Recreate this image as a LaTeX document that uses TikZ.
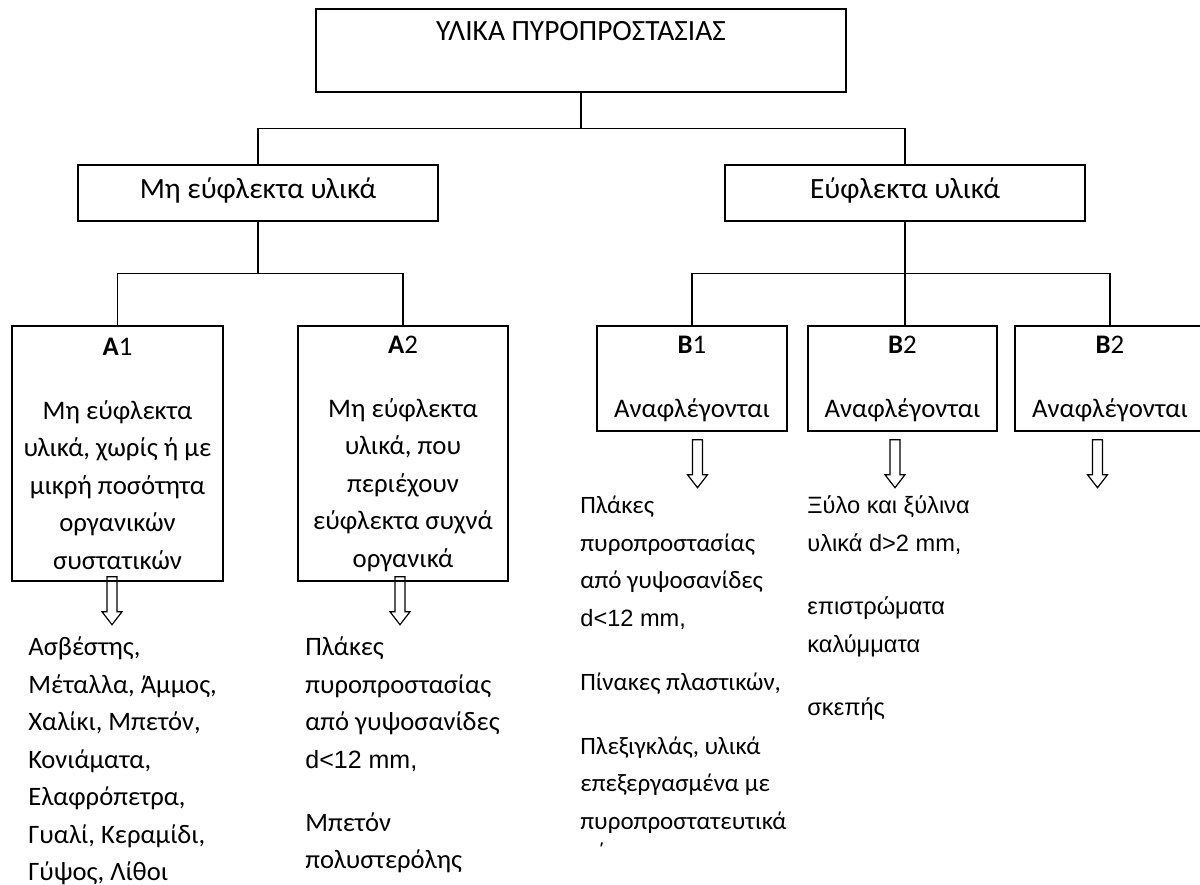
\documentclass[tikz,border=0pt]{standalone}
\usepackage{fontspec}
\setmainfont{Carlito}
\newfontfamily\arialfont{Liberation Sans}
\usetikzlibrary{positioning}
\usetikzlibrary{calc}

\newcommand{\titlefont}{\fontsize{14.7}{18.75}\selectfont}
\newcommand{\boxfont}{\fontsize{13.4}{18.75}\selectfont}
\newcommand{\listfont}{\fontsize{13.3}{18.75}\selectfont}
\newcommand{\blistfont}{\fontsize{12.5}{18.75}\selectfont}
\newcommand{\armfont}{\arialfont\fontsize{12.5}{18.75}\selectfont}
\newcommand{\barmfont}{\arialfont\fontsize{11.8}{18.75}\selectfont}

\tikzset{
  box/.style={draw, line width=0.7pt, inner sep=0pt, align=center, font=\boxfont},
  list/.style={anchor=north west, inner sep=0pt, align=left, font=\listfont},
  downarrow/.pic={\draw[line width=0.6pt, line join=miter] (-5,0) -- (5,0) -- (5,35) -- (10,35) -- (0,48) -- (-10,35) -- (-5,35) -- cycle;}
}

\begin{document}
\begin{tikzpicture}[x=0.5pt, y=-0.5pt]
	\useasboundingbox (0,0) rectangle (1200,884);
	
	% top level
	\node[box, font=\titlefont, minimum width=265pt, minimum height=41.5pt, text height=10pt, text depth=20.5pt] (top) at (581,50.5) {ΥΛΙΚΑ ΠΥΡΟΠΡΟΣΤΑΣΙΑΣ};
	
	% second level
	\node[box, font=\titlefont, minimum width=180pt, minimum height=28pt, text height=11pt, text depth=6pt] (mhe) at (258,193) {Μη εύφλεκτα υλικά};
	\node[box, font=\titlefont, minimum width=180pt, minimum height=28pt, text height=11pt, text depth=6pt] (eyf) at (905,193) {Εύφλεκτα υλικά};
	
	\draw[line width=0.7pt] (top.south) -- ++(0,36) coordinate (bus1);
	\draw[line width=0.7pt] (mhe.north) |- (bus1) -| (eyf.north);
	
	% A classes
	\node[box, minimum width=105.5pt, minimum height=127.5pt] (a1) at (117.5,453.5) {\textbf{A}1\\[13.25pt]Μη εύφλεκτα\\υλικά, χωρίς ή με\\μικρή ποσότητα\\οργανικών\\συστατικών};
	\node[box, minimum width=105pt, minimum height=127.5pt] (a2) at (403,453.5) {\textbf{A}2\\[13.25pt]Μη εύφλεκτα\\υλικά, που\\περιέχουν\\εύφλεκτα συχνά\\οργανικά};
	
	\draw[line width=0.7pt] (mhe.south) -- ++(0,52) coordinate (bus2);
	\draw[line width=0.7pt] (a1.north) |- (bus2) -| (a2.north);
	
	% B classes
	\node[box, minimum width=95pt, minimum height=52.5pt] (b1) at (692,378.5) {\textbf{B}1\\[13.25pt]Αναφλέγονται};
	\node[box, minimum width=94.5pt, minimum height=52.5pt] (b2) at (902.5,378.5) {\textbf{B}2\\[13.25pt]Αναφλέγονται};
	\node[box, minimum width=95pt, minimum height=52.5pt] (b3) at (1110,378.5) {\textbf{B}2\\[13.25pt]Αναφλέγονται};
	
	\draw[line width=0.7pt] (eyf.south) -- ++(0,52) coordinate (bus3);
	\draw[line width=0.7pt] (b1.north) |- (bus3) -| (b3.north);
	\draw[line width=0.7pt] (bus3) -- (bus3 |- b2.north);
	
	% hollow arrows
	\pic at ([xshift=-2.75pt,yshift=2.5pt]a1.south) {downarrow};
	\pic at ([xshift=-1.5pt,yshift=2.5pt]a2.south) {downarrow};
	\pic at ([xshift=2.75pt,yshift=-4pt]b1.south) {downarrow};
	\pic at ([xshift=-3.75pt,yshift=-4pt]b2.south) {downarrow};
	\pic at ([xshift=-6.25pt,yshift=-4pt]b3.south) {downarrow};
	
	% lists
	\node[list] (a1list) at (28,629) {\strut Ασβέστης,\\Μέταλλα, Άμμος,\\Χαλίκι, Μπετόν,\\Κονιάματα,\\Ελαφρόπετρα,\\Γυαλί, Κεραμίδι,\\Γύψος, Λίθοι};
	\node[list] (a2list) at (305,629) {\strut Πλάκες\\πυροπροστασίας\\από γυψοσανίδες\\{\armfont d<12 mm,}\\[12.75pt]Μπετόν\\πολυστερόλης};
	\node[list, font=\blistfont] (b1list) at (580,487) {\strut Πλάκες\\πυροπροστασίας\\από γυψοσανίδες\\{\barmfont d<12 mm,}\\[13.5pt]Πίνακες πλαστικών,\\[13pt]Πλεξιγκλάς, υλικά\\επεξεργασμένα με\\πυροπροστατευτικά};
	\node[list, font=\barmfont] (b2list) at (807,487) {\strut Ξύλο και ξύλινα\\υλικά d>2 mm,\\[13pt]επιστρώματα\\καλύμματα\\[13pt]σκεπής};
	\node[inner sep=0pt, font=\blistfont] (b1cut) at (601,852) {΄};
	
\end{tikzpicture}
\end{document}
